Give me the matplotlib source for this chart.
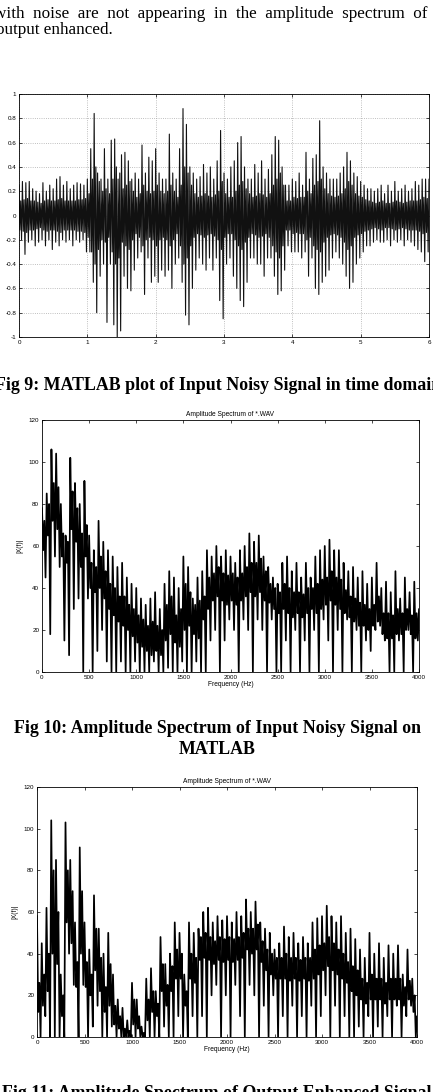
import numpy as np
import matplotlib
matplotlib.use('Agg')
import matplotlib.pyplot as plt

W, H = 433, 1092

# ---- waveform (Fig 9): every 0.05 s
t = np.arange(121) * 0.05
wave_hi = [0.25, 0.28, 0.27, 0.28, 0.22, 0.20, 0.18, 0.27, 0.20, 0.25,
           0.22, 0.30, 0.32, 0.25, 0.28, 0.22, 0.25, 0.27, 0.26, 0.25,
           0.30, 0.55, 0.84, 0.35, 0.30, 0.55, 0.30, 0.62, 0.63, 0.30,
           0.50, 0.52, 0.45, 0.30, 0.35, 0.30, 0.58, 0.35, 0.48, 0.45,
           0.55, 0.35, 0.30, 0.30, 0.67, 0.35, 0.30, 0.55, 0.88, 0.75,
           0.40, 0.35, 0.30, 0.32, 0.42, 0.35, 0.40, 0.30, 0.45, 0.70,
           0.35, 0.30, 0.40, 0.45, 0.60, 0.65, 0.40, 0.30, 0.30, 0.42,
           0.35, 0.45, 0.30, 0.38, 0.50, 0.65, 0.62, 0.40, 0.25, 0.25,
           0.30, 0.28, 0.35, 0.25, 0.52, 0.30, 0.47, 0.50, 0.78, 0.40,
           0.35, 0.30, 0.30, 0.30, 0.35, 0.40, 0.52, 0.45, 0.35, 0.32,
           0.28, 0.25, 0.22, 0.22, 0.20, 0.22, 0.25, 0.18, 0.25, 0.20,
           0.28, 0.20, 0.22, 0.25, 0.20, 0.22, 0.28, 0.25, 0.30, 0.30,
           0.30]
wave_lo = [-0.20, -0.32, -0.22, -0.20, -0.25, -0.22, -0.20, -0.25, -0.20, -0.28,
           -0.22, -0.25, -0.20, -0.22, -0.20, -0.25, -0.20, -0.22, -0.20, -0.30,
           -0.30, -0.55, -0.80, -0.50, -0.40, -0.88, -0.40, -0.90, -1.00, -0.95,
           -0.50, -0.60, -0.62, -0.45, -0.35, -0.30, -0.65, -0.35, -0.55, -0.50,
           -0.55, -0.45, -0.50, -0.45, -0.60, -0.40, -0.35, -0.55, -0.82, -0.90,
           -0.60, -0.45, -0.35, -0.40, -0.45, -0.35, -0.45, -0.35, -0.70, -0.85,
           -0.40, -0.35, -0.50, -0.60, -0.70, -0.75, -0.55, -0.35, -0.35, -0.40,
           -0.40, -0.50, -0.35, -0.35, -0.50, -0.65, -0.62, -0.45, -0.25, -0.30,
           -0.30, -0.30, -0.35, -0.30, -0.50, -0.35, -0.60, -0.65, -0.55, -0.50,
           -0.45, -0.35, -0.30, -0.35, -0.40, -0.50, -0.60, -0.55, -0.40, -0.35,
           -0.30, -0.25, -0.25, -0.22, -0.20, -0.22, -0.22, -0.20, -0.25, -0.20,
           -0.22, -0.20, -0.25, -0.20, -0.22, -0.25, -0.28, -0.30, -0.38, -0.30,
           -0.35]
# half height of the dark core, same 0.05 s steps
wave_core = [0.12, 0.13, 0.14, 0.12, 0.12, 0.11, 0.10, 0.12, 0.13, 0.12,
             0.12, 0.13, 0.14, 0.12, 0.12, 0.12, 0.12, 0.13, 0.13, 0.14,
             0.18, 0.30, 0.40, 0.28, 0.20, 0.22, 0.18, 0.30, 0.40, 0.35,
             0.22, 0.25, 0.28, 0.20, 0.15, 0.18, 0.25, 0.20, 0.18, 0.20,
             0.25, 0.20, 0.18, 0.20, 0.25, 0.20, 0.15, 0.25, 0.40, 0.35,
             0.25, 0.18, 0.15, 0.16, 0.18, 0.16, 0.15, 0.17, 0.20, 0.28,
             0.18, 0.15, 0.15, 0.20, 0.25, 0.28, 0.22, 0.18, 0.15, 0.16,
             0.18, 0.17, 0.15, 0.18, 0.25, 0.30, 0.35, 0.25, 0.12, 0.12,
             0.15, 0.14, 0.15, 0.15, 0.20, 0.18, 0.25, 0.28, 0.30, 0.22,
             0.18, 0.16, 0.15, 0.16, 0.18, 0.22, 0.28, 0.25, 0.18, 0.16,
             0.15, 0.13, 0.12, 0.11, 0.10, 0.11, 0.12, 0.10, 0.10, 0.11,
             0.12, 0.11, 0.10, 0.11, 0.12, 0.12, 0.12, 0.13, 0.15, 0.14,
             0.15]

# ---- spectra: peak, trough and dark core limits every 50 Hz
f = np.arange(81) * 50

in_peak = [78, 85, 106, 104, 80, 65, 102, 90, 80, 91,
           65, 58, 72, 62, 58, 55, 50, 52, 45, 42,
           40, 35, 32, 35, 38, 30, 42, 48, 45, 40,
           55, 50, 35, 45, 48, 58, 55, 60, 55, 58,
           55, 52, 58, 60, 66, 62, 65, 55, 50, 45,
           42, 52, 55, 48, 52, 45, 52, 45, 55, 58,
           60, 63, 58, 58, 52, 48, 50, 45, 48, 42,
           45, 52, 40, 43, 38, 48, 35, 45, 38, 43,
           30]
in_trough = [45, 18, 55, 50, 15, 8, 30, 35, 0, 35,
             0, 10, 20, 5, 0, 0, 5, 0, 0, 5,
             0, 0, 0, 5, 0, 0, 2, 0, 0, 5,
             0, 0, 5, 0, 0, 15, 20, 0, 15, 25,
             20, 0, 25, 20, 0, 25, 20, 0, 25, 0,
             0, 15, 0, 20, 0, 15, 0, 20, 0, 25,
             15, 0, 20, 0, 25, 0, 20, 0, 15, 10,
             20, 22, 15, 0, 0, 15, 0, 20, 0, 15,
             0]
in_core_lo = [58, 65, 72, 68, 55, 52, 68, 62, 50, 55,
              40, 38, 40, 35, 30, 27, 24, 22, 20, 17,
              14, 12, 10, 8, 10, 8, 15, 18, 14, 12,
              20, 22, 18, 16, 25, 30, 34, 36, 34, 32,
              34, 32, 34, 36, 38, 36, 38, 34, 33, 30,
              28, 30, 28, 26, 28, 26, 28, 30, 28, 30,
              32, 34, 32, 30, 28, 26, 24, 22, 22, 20,
              22, 24, 18, 16, 16, 18, 18, 20, 18, 16,
              14]
in_core_hi = [72, 80, 90, 88, 66, 62, 86, 78, 66, 70,
              52, 50, 55, 48, 42, 40, 36, 36, 32, 30,
              27, 25, 22, 24, 22, 20, 32, 36, 27, 30,
              42, 38, 32, 34, 36, 45, 47, 50, 47, 46,
              47, 45, 47, 50, 52, 52, 54, 48, 42, 40,
              38, 42, 40, 38, 38, 37, 40, 40, 42, 44,
              45, 48, 45, 44, 39, 36, 35, 33, 32, 30,
              32, 36, 28, 28, 27, 30, 28, 30, 27, 28,
              22]

out_peak = [58, 45, 62, 104, 85, 30, 103, 85, 55, 91,
            55, 42, 68, 52, 40, 50, 30, 18, 14, 8,
            26, 18, 5, 28, 33, 22, 48, 35, 40, 55,
            50, 30, 55, 50, 52, 60, 62, 55, 58, 56,
            58, 55, 60, 58, 66, 60, 65, 55, 52, 50,
            42, 45, 53, 48, 50, 45, 48, 45, 55, 57,
            58, 63, 58, 55, 58, 50, 52, 47, 42, 38,
            50, 40, 45, 38, 44, 40, 44, 30, 42, 28,
            10]
out_trough = [0, 10, 0, 0, 0, 0, 40, 25, 0, 25,
              0, 5, 15, 0, 0, 5, 0, 0, 0, 0,
              0, 0, 0, 0, 0, 0, 5, 0, 0, 10,
              0, 0, 10, 0, 10, 0, 20, 25, 0, 20,
              0, 25, 10, 0, 25, 20, 0, 15, 0, 20,
              0, 10, 0, 15, 0, 10, 0, 15, 0, 10,
              20, 0, 15, 0, 10, 0, 0, 5, 0, 10,
              0, 5, 0, 10, 0, 15, 0, 10, 15, 0,
              0]
out_core_lo = [12, 15, 22, 40, 35, 10, 55, 45, 24, 40,
               24, 20, 32, 22, 12, 15, 6, 4, 0, 0,
               6, 4, 0, 8, 12, 10, 22, 15, 22, 28,
               28, 15, 28, 26, 37, 38, 37, 35, 37, 36,
               37, 36, 37, 38, 42, 40, 42, 36, 32, 30,
               28, 28, 28, 27, 28, 27, 28, 27, 28, 30,
               32, 34, 32, 30, 28, 26, 22, 20, 18, 16,
               18, 18, 18, 16, 18, 18, 18, 15, 18, 12,
               6]
out_core_hi = [26, 30, 40, 80, 60, 20, 80, 70, 36, 70,
               36, 30, 52, 38, 24, 35, 15, 10, 4, 3,
               18, 10, 2, 18, 22, 16, 35, 25, 34, 42,
               40, 22, 40, 38, 48, 50, 48, 46, 48, 47,
               48, 47, 48, 50, 52, 52, 54, 46, 42, 40,
               38, 38, 40, 38, 38, 37, 38, 38, 42, 44,
               45, 48, 45, 42, 40, 36, 34, 32, 28, 26,
               30, 28, 28, 26, 28, 28, 28, 24, 27, 20,
               10]


def rect(left, top, right, bottom):
    return [left / W, 1 - bottom / H, (right - left) / W, (bottom - top) / H]


def trace(x, step, *levels):
    # visit the levels of each slot in turn: peak, core low, core high, trough
    n = len(levels)
    xs = np.column_stack([x + k * step / n for k in range(n)]).ravel()
    ys = np.column_stack(levels).ravel()
    return xs, ys


def matlab_axes(ax):
    ax.tick_params(direction='in', top=True, right=True, length=2, width=0.5,
                   labelsize=4.5, pad=2)
    for s in ax.spines.values():
        s.set_linewidth(0.6)
    for lab in ax.get_xticklabels() + ax.get_yticklabels():
        lab.set_fontfamily('Liberation Sans')


fig = plt.figure(figsize=(W / 100, H / 100), dpi=100)

# ---- page text (cut at the page edges like the scan)
serif = 'Liberation Serif'
fig.text(-6 / W, 1 - 18 / H, 'with  noise  are  not  appearing  in  the  amplitude  spectrum  of',
         fontsize=12.3, family=serif, ha='left', va='baseline')
fig.text(-4 / W, 1 - 34 / H, 'output enhanced.', fontsize=12.3, family=serif,
         ha='left', va='baseline')
fig.text(218 / W, 1 - 390 / H, 'Fig 9: MATLAB plot of Input Noisy Signal in time domain',
         fontsize=12.9, family=serif, weight='bold', ha='center', va='baseline')
fig.text(217 / W, 1 - 733 / H, 'Fig 10: Amplitude Spectrum of Input Noisy Signal on',
         fontsize=12.9, family=serif, weight='bold', ha='center', va='baseline')
fig.text(217 / W, 1 - 754 / H, 'MATLAB', fontsize=12.9, family=serif, weight='bold',
         ha='center', va='baseline')
fig.text(217 / W, 1 - 1098 / H, 'Fig 11: Amplitude Spectrum of Output Enhanced Signal',
         fontsize=12.9, family=serif, weight='bold', ha='center', va='baseline')

# ---- Fig 9: time domain
ax1 = fig.add_axes(rect(19, 94, 429, 337))
core = np.array(wave_core)
xs, ys = trace(t, 0.05, wave_hi, -core, core, wave_lo)
ax1.plot(xs, ys, color='#111111', lw=0.8)
ax1.set_xlim(0, 6)
ax1.set_ylim(-1, 1)
ax1.set_xticks(range(7))
ax1.set_yticks(np.arange(-1, 1.01, 0.2))
ax1.set_yticklabels(['-1', '-0.8', '-0.6', '-0.4', '-0.2', '0', '0.2', '0.4',
                     '0.6', '0.8', '1'])
ax1.grid(True, ls=':', lw=0.6, color='#aaaaaa')
ax1.set_axisbelow(True)
matlab_axes(ax1)


def spectrum(ax, peak, trough, core_lo, core_hi):
    xs, ys = trace(f, 50, peak, core_lo, core_hi, trough)
    ax.plot(xs, ys, color='black', lw=1.25)
    ax.set_xlim(0, 4000)
    ax.set_ylim(0, 120)
    ax.set_xticks(range(0, 4001, 500))
    ax.set_yticks(range(0, 121, 20))
    ax.set_title('Amplitude Spectrum of *.WAV', fontsize=4.8, family='Liberation Sans', pad=3)
    ax.set_xlabel('Frequency (Hz)', fontsize=4.8, family='Liberation Sans', labelpad=1)
    ax.set_ylabel('|X(f)|', fontsize=4.8, family='Liberation Sans', labelpad=4)
    matlab_axes(ax)


ax2 = fig.add_axes(rect(42, 420, 419, 672))
spectrum(ax2, in_peak, in_trough, in_core_lo, in_core_hi)

ax3 = fig.add_axes(rect(37, 787, 417, 1037))
spectrum(ax3, out_peak, out_trough, out_core_lo, out_core_hi)

fig.savefig('out.png', dpi=100)
